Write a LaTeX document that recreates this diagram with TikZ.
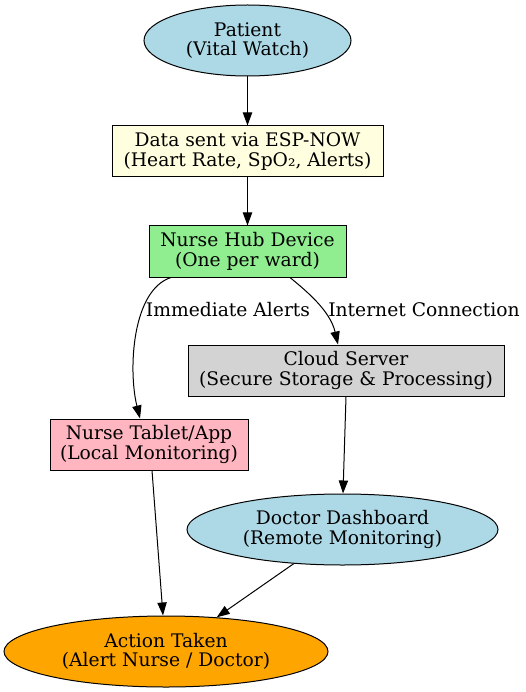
\documentclass[tikz,border=0pt]{standalone}
\usepackage{fontspec}
\setmainfont{DejaVu Serif}
\usetikzlibrary{shapes.geometric,arrows.meta}
\definecolor{lblue}{HTML}{ADD8E6}
\definecolor{lyellow}{HTML}{FFFFE0}
\definecolor{lgreen}{HTML}{90EE90}
\definecolor{lgrey}{HTML}{D3D3D3}
\definecolor{lpink}{HTML}{FFB6C1}
\definecolor{gvorange}{HTML}{FFA500}
\begin{document}
\begin{tikzpicture}[x=1pt,y=-1pt,
  txt/.style={font=\fontsize{18.7}{19.5}\selectfont, align=center, inner sep=0pt},
  ellnode/.style={txt, ellipse, draw=black, line width=1pt, minimum height=71pt},
  boxnode/.style={txt, rectangle, draw=black, line width=1pt, minimum height=51pt},
  conn/.style={-{Triangle[length=13pt,width=9.3pt]}, line width=1pt}
]
\useasboundingbox (0,0) rectangle (526,692);
\node[ellnode, fill=lblue, minimum width=207pt] (p) at (247.5,40.5) {Patient\\(Vital Watch)};
\node[boxnode, fill=lyellow, minimum width=271pt] (d) at (247.5,151.5) {Data sent via ESP-NOW\\(Heart Rate, SpO₂, Alerts)};
\node[boxnode, fill=lgreen, minimum width=197pt] (h) at (247.5,251.5) {Nurse Hub Device\\(One per ward)};
\node[boxnode, fill=lgrey, minimum width=316pt] (c) at (346,370.5) {Cloud Server\\(Secure Storage \& Processing)};
\node[boxnode, fill=lpink, minimum width=198pt] (t) at (149,444.5) {Nurse Tablet/App\\(Local Monitoring)};
\node[ellnode, fill=lblue, minimum width=311pt] (doc) at (342.5,529.5) {Doctor Dashboard\\(Remote Monitoring)};
\node[ellnode, fill=gvorange, minimum width=324pt] (a) at (166,651.5) {Action Taken\\(Alert Nurse / Doctor)};

\draw[conn] (p.south) -- (d.north);
\draw[conn] (d.south) -- (h.north);
\draw[conn] ([xshift=-76.5pt]h.south) .. controls (132,290) and (128,370) .. ([xshift=-9pt]t.north);
\draw[conn] ([xshift=42.5pt]h.south) .. controls (305,290) and (330,310) .. ([xshift=-8pt]c.north);
\draw[conn] (c.south) -- ([xshift=0.5pt]doc.north);
\draw[conn] ([xshift=3pt]t.south) -- ([xshift=-3pt]a.north);
\draw[conn] (doc.215) -- (a.34);

\node[txt] (l1) at (228,310) {Immediate Alerts};
\node[txt] (l2) at (424,310) {Internet Connection};
\end{tikzpicture}
\end{document}
